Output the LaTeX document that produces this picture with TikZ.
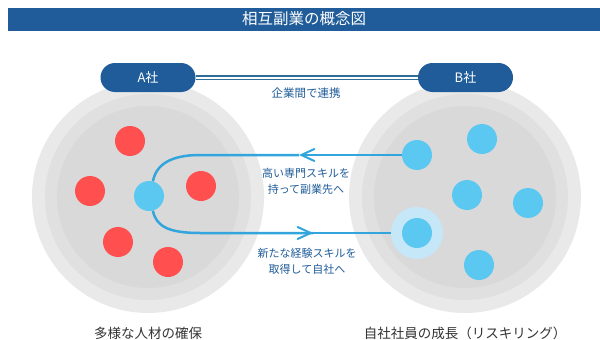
\documentclass[tikz,border=0pt]{standalone}
\usepackage{fontspec}
\setmainfont{Noto Sans CJK JP}
\usetikzlibrary{arrows.meta}
\definecolor{navy}{HTML}{1F5C99}
\definecolor{ringa}{HTML}{E9E9E9}
\definecolor{ringb}{HTML}{E0E0E0}
\definecolor{ringc}{HTML}{D9D9D9}
\definecolor{reddot}{HTML}{FF4F4F}
\definecolor{bluedot}{HTML}{5BC8F2}
\definecolor{halo}{HTML}{C5E7F7}
\definecolor{flow}{HTML}{33A5DD}
\definecolor{linkc}{HTML}{2F6E98}
\definecolor{captc}{HTML}{333333}
\begin{document}
\begin{tikzpicture}[x=1pt,y=-1pt,
  ringnode/.style={circle, inner sep=0pt, minimum size=#1},
  rdot/.style={circle, fill=reddot, inner sep=0pt, minimum size=30pt},
  bdot/.style={circle, fill=bluedot, inner sep=0pt, minimum size=30pt},
  halonode/.style={circle, fill=halo, inner sep=0pt, minimum size=52pt},
  pill/.style={fill=navy, rounded corners=14.5pt, minimum width=95pt, minimum height=29pt, inner sep=0pt, text=white, font=\fontsize{13}{15}\selectfont},
  flowline/.style={draw=flow, line width=2.5pt},
  barb/.style={-{Straight Barb[length=13pt,width=12pt,line width=2pt,line cap=round]}},
  flowlabel/.style={text=navy, align=center, font=\fontsize{11}{16}\selectfont, inner sep=0pt},
  caption/.style={text=captc, font=\fontsize{13.5}{15}\selectfont, inner sep=0pt}
]
\useasboundingbox (0,0) rectangle (600,340);
\fill[white] (0,0) rectangle (600,340);

% title
\node[fill=navy, minimum width=592pt, minimum height=23pt, inner sep=0pt, text=white, font=\fontsize{15.5}{17}\selectfont] (title) at (304,19) {相互副業の概念図};

% circles
\node[ringnode=232pt, fill=ringa] (ca) at (148,197) {};
\node[ringnode=206pt, fill=ringb] (ca2) at (148,197) {};
\node[ringnode=182pt, fill=ringc] (ca3) at (148,197) {};
\node[ringnode=232pt, fill=ringa] (cb) at (465,197) {};
\node[ringnode=206pt, fill=ringb] (cb2) at (465,197) {};
\node[ringnode=182pt, fill=ringc] (cb3) at (465,197) {};

% pills and link
\node[pill] (pa) at (148,77.5) {A社};
\node[pill] (pb) at (465.5,77.5) {B社};
\draw[linkc, line width=1.1pt, double=white, double distance=2pt] (pa.east) -- (pb.west);
\node[text=navy, font=\fontsize{11.5}{13}\selectfont, inner sep=0pt] (link) at (306,93) {企業間で連携};

% A company dots
\node[rdot] (r1) at (130,141) {};
\node[rdot] (r2) at (90,191) {};
\node[rdot] (r3) at (201,186) {};
\node[rdot] (r4) at (118,242) {};
\node[rdot] (r5) at (168,262) {};
\node[bdot] (a0) at (149,196) {};

% B company dots
\node[bdot] (b1) at (417,155) {};
\node[bdot] (b2) at (482,139) {};
\node[bdot] (b3) at (467,195) {};
\node[bdot] (b4) at (528,203) {};
\node[halonode] (b5h) at (417,233) {};
\node[bdot] (b5) at (417,233) {};
\node[bdot] (b6) at (479,265) {};

% flows
\coordinate (tipU) at (299,155);
\coordinate (cU) at (200,155);
\coordinate (tipD) at (313,233);
\coordinate (cD) at (200,233);
\draw[flowline, barb] (b1.west) -- (tipU);
\draw[flowline] (tipU) -- (cU) .. controls (170,155) and (156,165) .. (a0.75);
\draw[flowline] (a0.-75) .. controls (156,227) and (170,233) .. (cD) -- (tipD);
\draw[flowline, barb] (cD) -- (tipD);
\draw[flowline] (tipD) -- (b5h.west);

\node[flowlabel] (lu) at (306,181.5) {高い専門スキルを\\持って副業先へ};
\node[flowlabel] (ld) at (307,261) {新たな経験スキルを\\取得して自社へ};

% captions
\node[caption] (capa) at (148,333) {多様な人材の確保};
\node[caption] (capb) at (465,333) {自社社員の成長（リスキリング）};
\end{tikzpicture}
\end{document}
